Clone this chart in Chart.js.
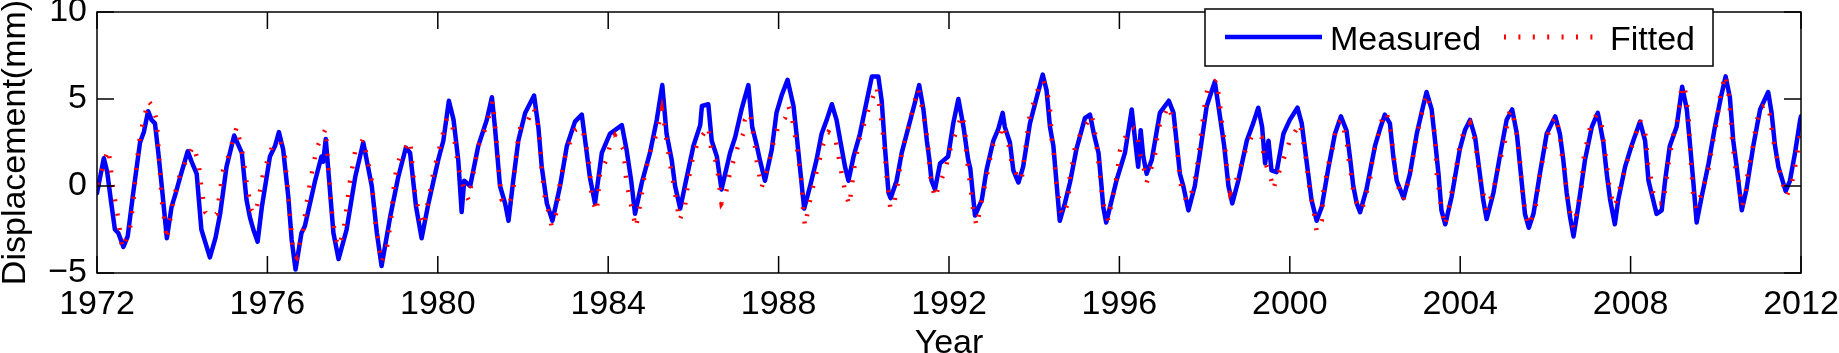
<!DOCTYPE html>
<html>
<head>
<meta charset="utf-8">
<script src="https://cdn.jsdelivr.net/npm/chart.js@4.4.1/dist/chart.umd.min.js"></script>
<style>
  html, body { margin: 0; padding: 0; background: #fff; }
  #chart { display: block; }
</style>
</head>
<body>
<canvas id="chart" width="1839" height="353"></canvas>
<script>
const yearTicks = [1972, 1976, 1980, 1984, 1988, 1992, 1996, 2000, 2004, 2008, 2012];
const mmTicks = [-5, 0, 5, 10];
const seriesNames = ['Measured', 'Fitted'];

// measured displacement (year, mm)
const measuredYears = [
  1972.00, 1972.08, 1972.16, 1972.24, 1972.33, 1972.42, 1972.50, 1972.62, 1972.72, 1972.85,
  1973.01, 1973.10, 1973.20, 1973.28, 1973.36, 1973.44, 1973.52, 1973.64, 1973.75, 1973.85,
  1973.95, 1974.13, 1974.22, 1974.34, 1974.45, 1974.65, 1974.78, 1974.89, 1975.04, 1975.22,
  1975.40, 1975.51, 1975.59, 1975.67, 1975.77, 1975.87, 1976.06, 1976.18, 1976.27, 1976.37,
  1976.49, 1976.57, 1976.66, 1976.80, 1976.88, 1977.12, 1977.27, 1977.31, 1977.37, 1977.45,
  1977.55, 1977.67, 1977.86, 1978.06, 1978.25, 1978.45, 1978.57, 1978.68, 1978.88, 1979.07,
  1979.25, 1979.35, 1979.49, 1979.62, 1979.78, 1980.01, 1980.13, 1980.26, 1980.37, 1980.48,
  1980.56, 1980.62, 1980.76, 1980.95, 1981.15, 1981.27, 1981.34, 1981.46, 1981.58, 1981.66,
  1981.77, 1981.89, 1982.05, 1982.26, 1982.36, 1982.44, 1982.56, 1982.69, 1982.87, 1983.03,
  1983.22, 1983.38, 1983.46, 1983.57, 1983.69, 1983.85, 1984.04, 1984.32, 1984.43, 1984.54,
  1984.63, 1984.79, 1984.98, 1985.14, 1985.27, 1985.37, 1985.49, 1985.57, 1985.69, 1985.80,
  1986.00, 1986.16, 1986.20, 1986.35, 1986.43, 1986.55, 1986.66, 1986.86, 1986.98, 1987.13,
  1987.29, 1987.38, 1987.49, 1987.56, 1987.68, 1987.84, 1987.95, 1988.07, 1988.21, 1988.35,
  1988.42, 1988.50, 1988.60, 1988.74, 1988.89, 1989.01, 1989.13, 1989.25, 1989.36, 1989.47,
  1989.56, 1989.64, 1989.76, 1989.91, 1990.07, 1990.19, 1990.34, 1990.42, 1990.50, 1990.58,
  1990.63, 1990.77, 1990.89, 1991.05, 1991.20, 1991.30, 1991.40, 1991.48, 1991.54, 1991.59,
  1991.67, 1991.79, 1991.98, 1992.10, 1992.22, 1992.34, 1992.45, 1992.50, 1992.61, 1992.77,
  1992.88, 1993.04, 1993.16, 1993.26, 1993.31, 1993.43, 1993.51, 1993.63, 1993.74, 1993.90,
  1994.06, 1994.20, 1994.29, 1994.37, 1994.45, 1994.53, 1994.60, 1994.72, 1994.84, 1994.99,
  1995.19, 1995.31, 1995.40, 1995.51, 1995.58, 1995.62, 1995.69, 1995.78, 1995.93, 1996.13,
  1996.29, 1996.37, 1996.44, 1996.50, 1996.56, 1996.64, 1996.76, 1996.95, 1997.16, 1997.27,
  1997.34, 1997.42, 1997.50, 1997.62, 1997.77, 1997.89, 1998.05, 1998.24, 1998.36, 1998.46,
  1998.56, 1998.65, 1998.79, 1998.99, 1999.14, 1999.26, 1999.35, 1999.42, 1999.50, 1999.57,
  1999.69, 1999.85, 2000.00, 2000.18, 2000.28, 2000.40, 2000.51, 2000.63, 2000.75, 2000.91,
  2001.06, 2001.20, 2001.33, 2001.41, 2001.49, 2001.57, 2001.65, 2001.80, 2002.00, 2002.12,
  2002.23, 2002.35, 2002.43, 2002.51, 2002.67, 2002.82, 2002.98, 2003.13, 2003.21, 2003.33,
  2003.41, 2003.49, 2003.56, 2003.65, 2003.80, 2003.99, 2004.11, 2004.23, 2004.35, 2004.46,
  2004.54, 2004.62, 2004.78, 2004.93, 2005.09, 2005.22, 2005.33, 2005.44, 2005.52, 2005.61,
  2005.72, 2005.87, 2006.03, 2006.23, 2006.34, 2006.42, 2006.50, 2006.58, 2006.66, 2006.77,
  2006.93, 2007.09, 2007.23, 2007.36, 2007.44, 2007.52, 2007.63, 2007.71, 2007.87, 2008.02,
  2008.22, 2008.34, 2008.42, 2008.49, 2008.61, 2008.73, 2008.81, 2008.92, 2009.08, 2009.21,
  2009.32, 2009.39, 2009.47, 2009.55, 2009.67, 2009.83, 2009.98, 2010.12, 2010.23, 2010.33,
  2010.41, 2010.49, 2010.61, 2010.72, 2010.88, 2011.04, 2011.23, 2011.31, 2011.39, 2011.47,
  2011.64, 2011.74, 2011.86, 2011.98, 2012.00
];
const measuredMm = [
  -0.4, 0.6, 1.6, 0.8, -0.9, -2.5, -2.7, -3.5, -2.9, -0.4,
  2.5, 3.1, 4.3, 3.8, 3.6, 1.9, 0.0, -3.0, -1.2, -0.4,
  0.5, 2.0, 1.4, 0.7, -2.5, -4.1, -3.0, -1.6, 1.1, 2.9,
  1.9, -0.8, -1.8, -2.5, -3.2, -1.2, 1.7, 2.3, 3.1, 2.1,
  -0.6, -3.1, -4.8, -2.7, -2.3, 0.3, 1.7, 1.4, 2.7, 0.3,
  -2.7, -4.2, -2.5, 0.5, 2.5, 0.0, -2.7, -4.6, -1.8, 0.5,
  2.2, 1.9, -1.2, -3.0, -1.0, 1.5, 2.6, 4.9, 3.8, 1.5,
  -1.5, 0.3, 0.0, 2.3, 3.8, 5.1, 3.4, 0.0, -1.0, -2.0,
  0.3, 2.6, 4.2, 5.2, 3.4, 1.1, -1.0, -2.0, 0.0, 2.3,
  3.7, 4.1, 2.6, 0.5, -1.0, 1.9, 3.0, 3.5, 2.1, 0.3,
  -1.6, 0.2, 1.9, 3.8, 5.8, 3.0, 1.5, 0.0, -1.3, 0.0,
  2.3, 3.5, 4.6, 4.7, 2.6, 1.7, -0.2, 1.9, 2.8, 4.4,
  5.8, 3.4, 2.3, 1.5, 0.3, 2.1, 4.2, 5.2, 6.1, 4.6,
  3.0, 1.1, -1.3, 0.0, 1.5, 3.0, 3.8, 4.7, 3.8, 2.3,
  1.1, 0.3, 1.7, 3.0, 4.9, 6.3, 6.3, 4.9, 2.1, -0.4,
  -0.7, 0.3, 1.9, 3.4, 4.8, 5.8, 4.4, 2.6, 1.5, 0.3,
  -0.2, 1.3, 1.7, 3.6, 5.0, 3.4, 1.5, 1.0, -1.7, -0.8,
  0.9, 2.6, 3.3, 4.2, 3.4, 2.5, 0.9, 0.2, 1.1, 3.6,
  5.1, 6.4, 5.5, 3.4, 2.3, 0.0, -2.0, -1.0, 0.2, 2.1,
  3.9, 4.1, 3.0, 1.9, 0.0, -1.2, -2.1, -1.2, 0.3, 1.9,
  4.4, 2.6, 1.1, 3.2, 1.7, 0.7, 1.5, 4.2, 4.9, 4.2,
  2.6, 0.7, 0.0, -1.4, 0.0, 1.9, 4.6, 6.0, 4.0, 2.3,
  0.0, -1.0, 0.3, 2.6, 3.6, 4.5, 3.4, 1.3, 2.6, 0.9,
  0.8, 3.0, 3.8, 4.5, 3.6, 1.3, -0.8, -2.0, -1.2, 1.1,
  3.0, 4.0, 3.2, 1.7, 0.0, -1.0, -1.5, -0.2, 2.3, 3.3,
  4.1, 3.6, 1.7, 0.3, -0.7, 0.7, 3.0, 4.6, 5.4, 4.4,
  2.6, 0.7, -1.4, -2.2, -0.6, 2.1, 3.2, 3.8, 2.8, 0.7,
  -0.8, -1.9, -0.4, 1.7, 3.8, 4.4, 3.0, 0.3, -1.6, -2.4,
  -1.6, 0.7, 3.0, 4.0, 3.0, 1.5, -0.4, -1.8, -2.9, -1.2,
  1.5, 3.4, 4.2, 2.5, 0.7, -0.8, -2.2, -0.8, 1.1, 2.3,
  3.7, 2.6, 0.3, -0.4, -1.6, -1.4, 0.3, 2.3, 3.4, 5.7,
  4.4, 2.5, 0.3, -2.1, -0.6, 1.3, 3.4, 5.1, 6.3, 5.1,
  2.6, 1.1, -1.4, -0.2, 2.3, 4.4, 5.4, 4.2, 2.3, 1.1,
  -0.3, 0.3, 1.9, 3.8, 4.0
];

// fitted displacement (year, mm)
const fittedYears = [
  1972.00, 1972.11, 1972.19, 1972.27, 1972.38, 1972.50, 1972.59, 1972.77, 1972.85, 1972.93,
  1973.01, 1973.20, 1973.30, 1973.40, 1973.44, 1973.52, 1973.64, 1973.79, 1973.95, 1974.10,
  1974.26, 1974.38, 1974.45, 1974.54, 1974.65, 1974.81, 1974.96, 1975.08, 1975.28, 1975.44,
  1975.51, 1975.63, 1975.71, 1975.79, 1975.90, 1976.10, 1976.30, 1976.41, 1976.49, 1976.61,
  1976.69, 1976.84, 1976.92, 1977.04, 1977.16, 1977.37, 1977.43, 1977.51, 1977.59, 1977.67,
  1977.78, 1977.86, 1977.94, 1978.06, 1978.25, 1978.45, 1978.53, 1978.68, 1978.80, 1978.90,
  1978.98, 1979.06, 1979.15, 1979.35, 1979.46, 1979.58, 1979.66, 1979.78, 1979.89, 1980.05,
  1980.21, 1980.33, 1980.40, 1980.48, 1980.64, 1980.72, 1980.83, 1980.95, 1981.15, 1981.29,
  1981.38, 1981.46, 1981.50, 1981.66, 1981.77, 1981.81, 1981.89, 1981.95, 1982.09, 1982.24,
  1982.32, 1982.36, 1982.40, 1982.44, 1982.52, 1982.60, 1982.67, 1982.79, 1982.87, 1982.99,
  1983.10, 1983.22, 1983.38, 1983.46, 1983.53, 1983.57, 1983.61, 1983.73, 1983.81, 1983.96,
  1984.04, 1984.16, 1984.36, 1984.42, 1984.51, 1984.65, 1984.76, 1984.86, 1985.02, 1985.14,
  1985.26, 1985.33, 1985.37, 1985.49, 1985.57, 1985.67, 1985.80, 1985.88, 1986.00, 1986.12,
  1986.27, 1986.35, 1986.43, 1986.55, 1986.59, 1986.66, 1986.74, 1986.86, 1987.06, 1987.17,
  1987.21, 1987.33, 1987.41, 1987.45, 1987.49, 1987.60, 1987.76, 1987.88, 1988.00, 1988.15,
  1988.23, 1988.31, 1988.42, 1988.46, 1988.50, 1988.54, 1988.58, 1988.62, 1988.74, 1988.82,
  1988.89, 1989.05, 1989.17, 1989.25, 1989.32, 1989.40, 1989.48, 1989.56, 1989.66, 1989.71,
  1989.79, 1989.91, 1990.11, 1990.30, 1990.38, 1990.46, 1990.54, 1990.62, 1990.69, 1990.81,
  1990.89, 1991.05, 1991.20, 1991.28, 1991.36, 1991.44, 1991.51, 1991.55, 1991.67, 1991.79,
  1991.91, 1992.06, 1992.18, 1992.30, 1992.38, 1992.41, 1992.45, 1992.49, 1992.53, 1992.57,
  1992.65, 1992.77, 1992.84, 1992.96, 1993.04, 1993.20, 1993.27, 1993.35, 1993.43, 1993.47,
  1993.55, 1993.63, 1993.71, 1993.78, 1993.86, 1993.90, 1994.02, 1994.12, 1994.21, 1994.33,
  1994.37, 1994.41, 1994.46, 1994.51, 1994.57, 1994.60, 1994.68, 1994.80, 1994.84, 1994.92,
  1994.96, 1995.07, 1995.35, 1995.43, 1995.47, 1995.51, 1995.55, 1995.58, 1995.62, 1995.74,
  1995.86, 1995.94, 1996.01, 1996.09, 1996.29, 1996.37, 1996.44, 1996.48, 1996.52, 1996.56,
  1996.64, 1996.72, 1996.83, 1996.91, 1997.15, 1997.27, 1997.34, 1997.38, 1997.42, 1997.46,
  1997.58, 1997.66, 1997.81, 1997.89, 1997.97, 1998.01, 1998.07, 1998.28, 1998.32, 1998.36,
  1998.40, 1998.44, 1998.48, 1998.52, 1998.56, 1998.60, 1998.71, 1998.79, 1998.91, 1998.99,
  1999.14, 1999.34, 1999.38, 1999.46, 1999.53, 1999.57, 1999.61, 1999.69, 1999.89, 2000.00,
  2000.24, 2000.36, 2000.44, 2000.47, 2000.55, 2000.63, 2000.75, 2000.79, 2000.91, 2001.02,
  2001.10, 2001.22, 2001.30, 2001.34, 2001.37, 2001.41, 2001.45, 2001.49, 2001.53, 2001.69,
  2001.80, 2001.88, 2001.96, 2002.08, 2002.20, 2002.27, 2002.35, 2002.43, 2002.47, 2002.51,
  2002.66, 2002.82, 2002.98, 2003.13, 2003.21, 2003.33, 2003.41, 2003.45, 2003.49, 2003.53,
  2003.64, 2003.76, 2003.88, 2003.99, 2004.07, 2004.23, 2004.35, 2004.39, 2004.43, 2004.50,
  2004.62, 2004.78, 2004.90, 2005.05, 2005.13, 2005.21, 2005.29, 2005.33, 2005.40, 2005.44,
  2005.48, 2005.60, 2005.76, 2005.87, 2006.03, 2006.11, 2006.25, 2006.34, 2006.38, 2006.46,
  2006.50, 2006.54, 2006.66, 2006.77, 2006.85, 2006.89, 2007.05, 2007.20, 2007.32, 2007.36,
  2007.40, 2007.44, 2007.48, 2007.52, 2007.63, 2007.79, 2007.95, 2008.06, 2008.22, 2008.34,
  2008.42, 2008.49, 2008.53, 2008.65, 2008.77, 2008.81, 2008.89, 2009.00, 2009.08, 2009.16,
  2009.20, 2009.28, 2009.36, 2009.39, 2009.43, 2009.47, 2009.55, 2009.67, 2009.75, 2009.83,
  2009.94, 2010.02, 2010.10, 2010.22, 2010.29, 2010.36, 2010.38, 2010.45, 2010.53, 2010.57,
  2010.61, 2010.69, 2010.76, 2010.84, 2010.96, 2011.04, 2011.19, 2011.27, 2011.35, 2011.43,
  2011.51, 2011.66, 2011.78, 2011.86, 2011.94, 2012.00
];
const fittedMm = [
  0.1, 0.8, 1.6, 2.1, -0.2, -1.9, -3.6, -2.5, -1.0, 1.3,
  2.9, 4.9, 4.6, 3.8, 2.3, -0.8, -3.1, -0.8, 0.7, 1.5,
  2.3, 1.4, -0.1, -1.5, -1.8, -1.6, 0.9, 1.7, 3.4, 1.6,
  0.2, -1.4, -1.6, -0.8, 0.7, 2.2, 2.6, 1.7, -0.6, -3.9,
  -4.1, -2.5, -1.0, 0.7, 2.2, 3.3, 1.0, -1.4, -2.9, -3.5,
  -2.7, -1.2, 0.3, 2.0, 2.7, 0.3, -2.0, -4.4, -3.6, -2.0,
  0.3, 1.3, 1.9, 2.6, -0.3, -1.8, -2.3, -0.8, 0.7, 2.3,
  3.9, 3.7, 2.5, 1.1, -0.4, -0.8, 0.7, 2.3, 3.5, 4.9,
  2.5, 0.2, -0.8, -1.1, -0.4, 1.2, 2.8, 3.5, 3.6, 4.5,
  4.1, 3.3, 2.5, 0.9, -0.8, -1.5, -2.3, -1.5, 0.2, 1.7,
  2.5, 3.2, 3.4, 2.6, 1.7, 0.9, -0.7, -1.5, 0.8, 1.5,
  2.3, 2.9, 2.1, 0.4, -0.8, -2.4, -0.9, 0.7, 2.3, 3.0,
  4.4, 3.4, 2.6, 0.7, -0.4, -2.0, -1.2, 0.3, 1.8, 2.6,
  3.1, 3.4, 1.9, 1.3, 0.4, -1.0, -0.7, 0.8, 2.4, 3.0,
  3.8, 4.2, 2.9, 2.2, 1.4, -0.1, 1.2, 2.5, 3.5, 3.9,
  4.6, 4.0, 2.4, 1.7, 0.9, 0.2, -1.5, -2.3, -0.8, 0.1,
  0.8, 2.4, 3.1, 3.0, 2.9, 1.8, 0.7, -0.3, -1.1, -0.2,
  1.3, 2.8, 4.4, 5.7, 4.4, 2.8, 0.4, -1.2, -1.3, 0.3,
  1.9, 3.4, 4.9, 5.6, 4.6, 3.6, 2.3, 0.7, -0.7, 0.2,
  0.9, 2.4, 3.2, 4.1, 3.3, 1.7, 1.0, 0.2, -0.6, -1.4,
  -2.3, -0.8, 0.0, 1.5, 2.4, 3.0, 3.5, 2.8, 2.1, 1.3,
  0.9, 0.3, 0.5, 1.9, 3.4, 4.2, 5.0, 5.8, 6.1, 5.1,
  4.4, 2.7, 1.9, 0.3, -0.5, -1.3, -1.7, -0.9, 0.7, 1.5,
  2.3, 2.9, 4.1, 3.0, 2.2, 1.3, 0.5, -0.2, -1.0, -2.0,
  -0.4, 0.6, 2.0, 2.6, 3.4, 3.3, 2.6, 1.9, 1.5, 1.2,
  0.2, 0.8, 1.7, 3.3, 4.6, 3.7, 2.9, 1.4, 0.5, -0.2,
  -0.9, -0.7, 0.8, 2.4, 4.0, 4.8, 5.6, 6.1, 5.4, 4.7,
  3.8, 3.0, 2.3, 1.1, 0.3, -0.4, 0.1, 0.7, 1.6, 2.3,
  3.0, 2.8, 1.9, 1.1, 0.6, 0.3, -0.2, 0.4, 1.8, 2.6,
  3.6, 1.9, 0.3, -0.3, -1.2, -2.6, -2.0, -0.3, 1.3, 2.3,
  3.6, 3.8, 2.9, 2.6, 1.7, 1.1, 0.5, -0.3, -0.8, -1.4,
  -0.4, 0.3, 1.9, 3.0, 4.2, 4.2, 3.5, 1.9, 1.1, 0.2,
  -0.8, 0.6, 2.9, 4.5, 5.3, 4.2, 2.8, 0.7, 0.0, -0.8,
  -2.3, -0.9, 0.7, 2.3, 3.0, 3.6, 2.6, 1.8, 1.0, 0.1,
  -1.4, -0.2, 1.1, 2.6, 4.1, 4.4, 3.5, 2.9, 1.5, 0.3,
  -0.8, -2.3, -1.4, 0.7, 2.6, 3.5, 4.0, 2.9, 1.9, 0.8,
  -0.4, -1.0, -2.4, -1.0, -0.2, 1.5, 3.4, 4.1, 3.5, 2.7,
  2.0, 1.2, 0.4, -0.4, -1.2, 0.3, 1.7, 2.5, 3.8, 3.1,
  1.0, 0.3, -0.4, -1.0, -1.0, -0.2, 1.3, 2.9, 3.5, 4.9,
  5.8, 5.5, 4.0, 2.5, 0.9, -0.5, -1.3, -0.4, 0.3, 1.0,
  2.6, 3.7, 5.1, 6.4, 5.6, 3.6, 2.8, 1.2, 0.3, -0.4,
  -1.2, -0.6, 1.0, 1.8, 3.7, 4.5, 4.7, 4.1, 2.6, 1.7,
  0.7, -0.6, 0.1, 1.1, 2.3, 3.4
];

const FONT = "'Liberation Sans', Arial, Helvetica, sans-serif";
const TICK_LEN = 17;

Chart.defaults.font.family = FONT;
Chart.defaults.color = '#000';

const toPoints = (xs, ys) => xs.map((x, i) => ({ x: x, y: ys[i] }));
const tickText = v => (v < 0 ? '\u2212' + Math.abs(v) : String(v));

// box round the plot, inward ticks on all four sides, and the legend
const frameAndLegend = {
  id: 'frameAndLegend',
  afterDatasetsDraw(chart) {
    const { ctx, chartArea: area, scales: { x, y } } = chart;
    ctx.save();
    ctx.strokeStyle = '#000';
    ctx.lineWidth = 1.5;
    ctx.strokeRect(area.left, area.top, area.right - area.left, area.bottom - area.top);
    ctx.beginPath();
    x.ticks.forEach(t => {
      const px = x.getPixelForValue(t.value);
      ctx.moveTo(px, area.bottom); ctx.lineTo(px, area.bottom - TICK_LEN);
      ctx.moveTo(px, area.top); ctx.lineTo(px, area.top + TICK_LEN);
    });
    y.ticks.forEach(t => {
      const py = y.getPixelForValue(t.value);
      ctx.moveTo(area.left, py); ctx.lineTo(area.left + TICK_LEN, py);
      ctx.moveTo(area.right, py); ctx.lineTo(area.right - TICK_LEN, py);
    });
    ctx.stroke();

    // legend box, top right
    const bw = 508, bh = 57;
    const bx = area.right - 88 - bw, by = area.top - 3;
    ctx.fillStyle = '#fff';
    ctx.fillRect(bx, by, bw, bh);
    ctx.strokeRect(bx, by, bw, bh);

    const ly = by + 28;
    ctx.lineWidth = 4.5;
    ctx.strokeStyle = '#0000ff';
    ctx.beginPath(); ctx.moveTo(bx + 20, ly); ctx.lineTo(bx + 117, ly); ctx.stroke();

    ctx.strokeStyle = '#ff0000';
    ctx.lineWidth = 5;
    ctx.setLineDash([2, 12.4]);
    ctx.beginPath(); ctx.moveTo(bx + 299, ly); ctx.lineTo(bx + 394, ly); ctx.stroke();
    ctx.setLineDash([]);

    ctx.fillStyle = '#000';
    ctx.font = '34px ' + FONT;
    ctx.textBaseline = 'alphabetic';
    ctx.textAlign = 'left';
    ctx.fillText(seriesNames[0], bx + 125, by + 41);
    ctx.fillText(seriesNames[1], bx + 405, by + 41);
    ctx.restore();
  }
};

new Chart(document.getElementById('chart'), {
  type: 'line',
  data: {
    datasets: [
      {
        label: seriesNames[0],
        data: toPoints(measuredYears, measuredMm),
        borderColor: '#0000ff',
        borderWidth: 4.5,
        borderJoinStyle: 'round',
        borderCapStyle: 'round',
        pointRadius: 0,
        tension: 0,
        order: 1
      },
      {
        label: seriesNames[1],
        data: toPoints(fittedYears, fittedMm),
        borderColor: '#ff0000',
        borderWidth: 4.5,
        borderDash: [2, 12.5],
        pointRadius: 0,
        tension: 0,
        order: 0
      }
    ]
  },
  options: {
    responsive: false,
    animation: false,
    devicePixelRatio: 1,
    layout: { padding: { left: 0, right: 38, top: 12, bottom: 0 } },
    plugins: { legend: { display: false }, tooltip: { enabled: false } },
    scales: {
      x: {
        type: 'linear',
        min: 1972,
        max: 2012,
        afterBuildTicks: s => { s.ticks = yearTicks.map(v => ({ value: v })); },
        afterFit: s => { s.height = 80; s.paddingLeft = 0; s.paddingRight = 0; },
        grid: { display: false, drawTicks: false },
        border: { display: false },
        ticks: {
          autoSkip: false,
          maxRotation: 0,
          padding: 11,
          font: { size: 34 },
          color: '#000',
          callback: v => tickText(v)
        },
        title: {
          display: true,
          text: 'Year',
          font: { size: 34 },
          color: '#000',
          padding: { top: 0, bottom: -11 }
        }
      },
      y: {
        type: 'linear',
        min: -5,
        max: 10,
        afterBuildTicks: s => { s.ticks = mmTicks.map(v => ({ value: v })); },
        afterFit: s => { s.width = 97; s.paddingTop = 0; s.paddingBottom = 0; },
        grid: { display: false, drawTicks: false },
        border: { display: false },
        ticks: {
          padding: 10,
          font: { size: 34 },
          color: '#000',
          callback: v => tickText(v)
        },
        title: {
          display: true,
          text: 'Displacement(mm)',
          font: { size: 34 },
          color: '#000',
          padding: { top: -5, bottom: 0 }
        }
      }
    }
  },
  plugins: [frameAndLegend]
});
</script>
</body>
</html>
